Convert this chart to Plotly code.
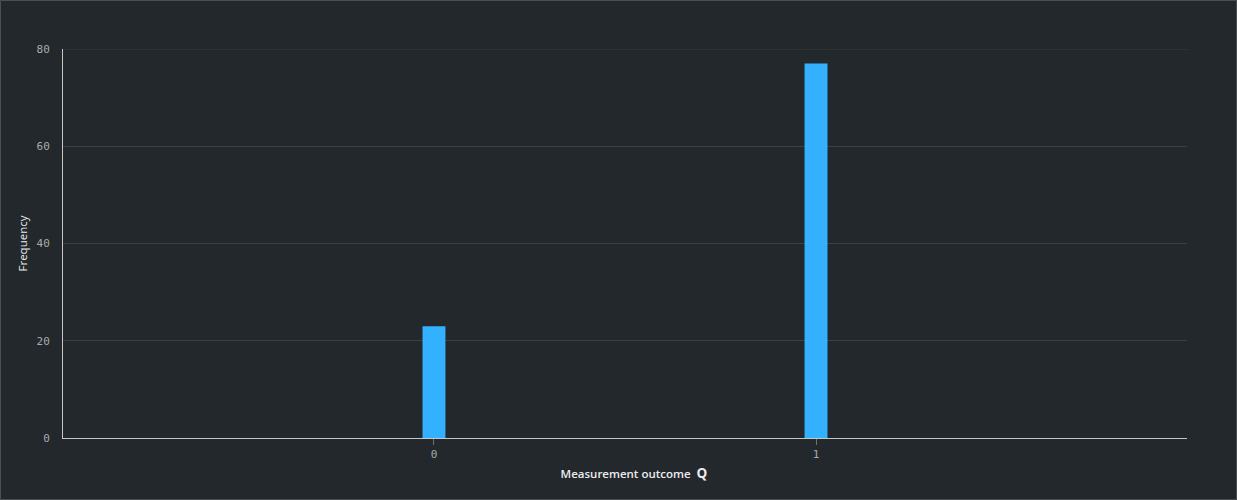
import plotly.graph_objects as go

outcomes = ["0", "1"]
frequency = [23, 77]
y_ticks = [0, 20, 40, 60, 80]

W, H = 1237, 500
L, R, T, B = 63, 50, 49, 62
pw, ph = W - L - R, H - T - B

fig = go.Figure()
fig.add_trace(go.Bar(
    x=[0, 1], y=frequency, width=0.06,
    marker=dict(color="#33b1ff", line=dict(width=0)),
    hoverinfo="skip",
))

tick_font = dict(family="DejaVu Sans Mono, monospace", size=11, color="#a8acaf")

fig.update_layout(
    width=W, height=H,
    margin=dict(l=L, r=R, t=T, b=B, autoexpand=False),
    paper_bgcolor="#23282c", plot_bgcolor="#23282c",
    font=dict(family="Open Sans, sans-serif", color="#a8acaf", size=11),
    showlegend=False,
    xaxis=dict(
        range=[-0.971, 1.971], tickvals=[0, 1], ticktext=outcomes,
        showgrid=False, zeroline=False, automargin=False,
        showline=True, linecolor="#c6c6c6", linewidth=1,
        ticks="outside", ticklen=6, tickcolor="#6f6f6f",
        tickfont=tick_font,
        title=dict(text="&nbsp;&nbsp;&nbsp;&nbsp;&nbsp;&nbsp;Measurement outcome  <b><span style='font-size:13.5px'>Q</span></b>",
                   font=dict(family="Open Sans, sans-serif", size=11.5, color="#ececec", weight=600),
                   standoff=9),
    ),
    yaxis=dict(
        range=[0, 80], tickvals=y_ticks,
        showgrid=True, gridcolor="#3b4045", gridwidth=1,
        zeroline=False, automargin=False,
        showline=True, linecolor="#c6c6c6", linewidth=1,
        ticks="", ticklabelstandoff=10,
        tickfont=tick_font,
        title=dict(text="Frequency", font=dict(family="Open Sans, sans-serif", size=11.5,
                                               color="#ececec", weight=500), standoff=6),
    ),
)

# gridline at the top of the range (plotly hides it at the plot edge)
fig.add_shape(type="line", xref="paper", yref="y", x0=0, x1=1, y0=y_ticks[-1], y1=y_ticks[-1],
              line=dict(color="#3b4045", width=1), layer="below")

fig.add_shape(
    type="rect", xref="paper", yref="paper",
    x0=-(L - 0.5) / pw, x1=1 + (R - 0.5) / pw,
    y0=-(B - 0.5) / ph, y1=1 + (T - 0.5) / ph,
    line=dict(color="#4a4f54", width=1), layer="above",
)

fig.write_html("out.html", config={"displayModeBar": False},
               post_script="document.body.style.margin='0';")
